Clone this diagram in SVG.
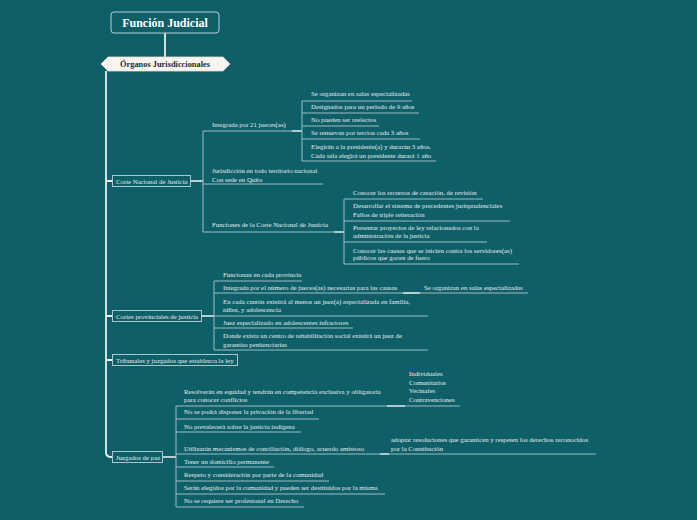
<svg xmlns="http://www.w3.org/2000/svg" width="697" height="520" viewBox="0 0 697 520">
<defs>
<style>
.bg{fill:#0f5f69}
.t{font-family:"Liberation Serif","DejaVu Serif",serif;font-size:6.8px;fill:#e4eced}
.box{fill:#0f5f69;stroke:#a9c7cb;stroke-width:1}
.ul{stroke:#9ebdc1;stroke-width:1;fill:none}
.cn{stroke:#e3ecee;stroke-width:1.6;fill:none}
.trunk{stroke:#e8eff0;stroke-width:1.8;fill:none}
</style>
</defs>
<rect class="bg" x="0" y="0" width="697" height="520"/>

<g id="connectors">
<line class="trunk" x1="165" y1="33" x2="165" y2="57"/>
<path class="trunk" d="M106 71 V452 Q106 457 111 457 H112"/>
<path class="trunk" d="M106 181 H112 M106 316 H112 M106 360 H112"/>
<!-- Corte Nacional -->
<path class="cn" d="M191 181 H203"/>
<path class="ul" d="M203 131 V232"/>
<path class="ul" d="M203 131 H292 M203 184 H323 M203 232 H334"/>
<path class="cn" d="M292 131 H302 M334 232 H344"/>
<path class="ul" d="M302 101 V161"/>
<path class="ul" d="M302 101 H412 M302 113 H419 M302 126 H379 M302 139 H420 M302 161 H436"/>
<path class="ul" d="M344 199 V264"/>
<path class="ul" d="M344 199 H483 M344 221 H510 M344 242 H487 M344 264 H519"/>
<!-- Cortes provinciales -->
<path class="cn" d="M202 316 H214"/>
<path class="ul" d="M214 281 V350"/>
<path class="ul" d="M214 281 H302 M214 293 H403 M214 316 H428 M214 328 H353 M214 350 H428"/>
<path class="cn" d="M403 293 H420"/>
<path class="ul" d="M420 293 H528"/>
<!-- Juzgados de paz -->
<path class="cn" d="M163 457 H176"/>
<path class="ul" d="M176 406 V507"/>
<path class="ul" d="M176 406 H387 M176 419 H319 M176 432 H301 M176 454 H380 M176 467 H274 M176 481 H329 M176 494 H385 M176 507 H304"/>
<path class="cn" d="M387 406 H405 M380 454 H389"/>
<path class="ul" d="M405 406 H460 M389 454 H596"/>
</g>

<g id="root">
<rect x="111" y="12" width="108" height="21" rx="3" fill="#0f5f69" stroke="#b9d2d5" stroke-width="1"/>
<text x="165" y="27" text-anchor="middle" font-family="Liberation Serif, serif" font-weight="bold" font-size="12" fill="#ffffff">Función Judicial</text>
</g>

<g id="organos">
<polygon points="101,64 108,57 223,57 230,64 223,71 108,71" fill="#f8f4f0" stroke="#e6e0da" stroke-width="0.8"/>
<text x="165" y="67" text-anchor="middle" font-family="Liberation Serif, serif" font-weight="bold" font-size="8.4" fill="#2b2b2b">Órganos Jurisdiccionales</text>
</g>

<g id="corte-nacional">
<rect class="box" x="112.5" y="175.5" width="78" height="11"/>
<text class="t" x="116" y="183.5">Corte Nacional de Justicia</text>
</g>
<g id="integrada"><text class="t" x="212" y="127">Integrada por 21 jueces(as)</text></g>
<g id="salas"><text class="t" x="311" y="96">Se organizan en salas especializadas</text></g>
<g id="designados"><text class="t" x="311" y="109">Designados para un periodo de 9 años</text></g>
<g id="reelectos"><text class="t" x="311" y="122">No pueden ser reelectos</text></g>
<g id="renuevan"><text class="t" x="311" y="135">Se renuevan por tercios cada 3 años</text></g>
<g id="elegiran"><text class="t" x="311" y="149">Elegirán a la presidente(a) y durarán 3 años.</text><text class="t" x="311" y="158">Cada sala elegirá un presidente durará 1 año</text></g>
<g id="jurisdiccion"><text class="t" x="212" y="173">Jurisdicción en todo territorio nacional</text><text class="t" x="212" y="182">Con sede en Quito</text></g>
<g id="funciones"><text class="t" x="212" y="227">Funciones de la Corte Nacional de Justicia</text></g>
<g id="casacion"><text class="t" x="353" y="195">Conocer los recursos de casación, de revisión</text></g>
<g id="precedentes"><text class="t" x="353" y="208">Desarrollar el sistema de precedentes jurisprudenciales</text><text class="t" x="353" y="217">Fallos de triple reiteración</text></g>
<g id="proyectos"><text class="t" x="353" y="230">Presentar proyectos de ley relacionados con la</text><text class="t" x="353" y="238">administración de la justicia</text></g>
<g id="causas"><text class="t" x="353" y="253">Conocer las causas que se inicien contra los servidores(as)</text><text class="t" x="353" y="260">públicos que gocen de fuero</text></g>

<g id="cortes-provinciales">
<rect class="box" x="112.5" y="310.5" width="89" height="11"/>
<text class="t" x="116" y="318.5">Cortes provinciales de justicia</text>
</g>
<g id="funcionan"><text class="t" x="223" y="277">Funcionan en cada provincia</text></g>
<g id="integrada-prov"><text class="t" x="223" y="290">Integrada por el número de jueces(as) necesarias para las causas</text></g>
<g id="salas-prov"><text class="t" x="424" y="290">Se organizan en salas especializadas</text></g>
<g id="canton"><text class="t" x="223" y="304">En cada cantón existirá al menos un juez(a) especializada en familia,</text><text class="t" x="223" y="312">niñez, y adolescencia</text></g>
<g id="infractores"><text class="t" x="223" y="325">Juez especializado en adolescentes infractores</text></g>
<g id="rehabilitacion"><text class="t" x="223" y="338">Donde exista un centro de rehabilitación social existirá un juez de</text><text class="t" x="223" y="347">garantías penitenciarias</text></g>

<g id="tribunales">
<rect class="box" x="112.5" y="354.5" width="125" height="11"/>
<text class="t" x="116" y="362.5">Tribunales y juzgados que establezca la ley</text>
</g>

<g id="juzgados-paz">
<rect class="box" x="112.5" y="451.5" width="50" height="11"/>
<text class="t" x="116" y="459.5">Juzgados de paz</text>
</g>
<g id="resolveran"><text class="t" x="184" y="394">Resolverán en equidad y tendrán en competencia exclusiva y obligatoria</text><text class="t" x="184" y="402">para conocer conflictos</text></g>
<g id="tipos"><text class="t" x="409" y="376">Individuales</text><text class="t" x="409" y="385">Comunitarios</text><text class="t" x="409" y="393">Vecinales</text><text class="t" x="409" y="402">Contravenciones</text></g>
<g id="libertad"><text class="t" x="184" y="414">No se podrá disponer la privación de la libertad</text></g>
<g id="indigena"><text class="t" x="184" y="429">No prevalecerá sobre la justicia indígena</text></g>
<g id="mecanismos"><text class="t" x="184" y="451">Utilizarán mecanismos de conciliación, diálogo, acuerdo amistoso</text></g>
<g id="adoptar"><text class="t" x="391" y="442">adoptar resoluciones que garanticen y respeten los derechos reconocidos</text><text class="t" x="391" y="451">por la Constitución</text></g>
<g id="domicilio"><text class="t" x="184" y="464">Tener un domicilio permanente</text></g>
<g id="respeto"><text class="t" x="184" y="477">Respeto y consideración por parte de la comunidad</text></g>
<g id="elegidos"><text class="t" x="184" y="490">Serán elegidos por la comunidad y pueden ser destituidos por la misma</text></g>
<g id="profesional"><text class="t" x="184" y="503">No se requiere ser profesional en Derecho</text></g>
</svg>
